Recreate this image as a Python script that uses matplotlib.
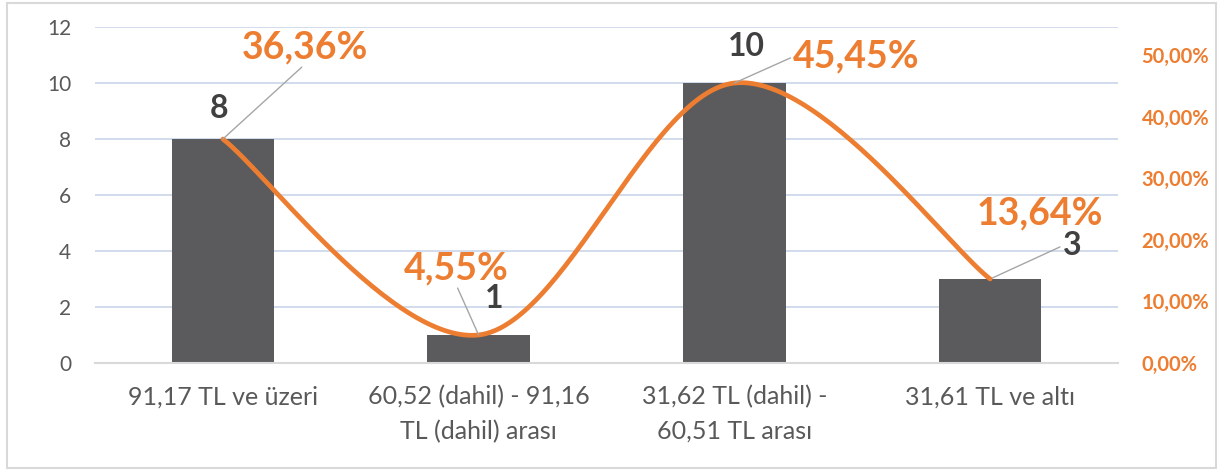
import numpy as np
import matplotlib
matplotlib.use("Agg")
import matplotlib.pyplot as plt
from matplotlib.patches import Rectangle
from matplotlib.ticker import FuncFormatter

# data
categories = ["91,17 TL ve üzeri", "60,52 (dahil) - 91,16\nTL (dahil) arası",
              "31,62 TL (dahil) -\n60,51 TL arası", "31,61 TL ve altı"]
counts = [8, 1, 10, 3]
shares = [0.3636, 0.0455, 0.4545, 0.1364]
share_labels = ["36,36%", "4,55%", "45,45%", "13,64%"]
left_ticks = [0, 2, 4, 6, 8, 10, 12]
right_ticks = [0.0, 0.1, 0.2, 0.3, 0.4, 0.5]

bar_color = "#5B5B5D"
orange = "#ED7D31"
text_gray = "#595959"
grid_color = "#C9D5EA"

plt.rcParams['font.family'] = ['Lato', 'DejaVu Sans']


def smooth(xs, ys, n=60):
    # excel-like smoothed line (catmull-rom as bezier segments)
    pts = np.column_stack([xs, ys]).astype(float)
    out = []
    for i in range(len(pts) - 1):
        p0 = pts[i - 1] if i > 0 else pts[i]
        p1 = pts[i]
        p2 = pts[i + 1]
        p3 = pts[i + 2] if i + 2 < len(pts) else pts[i + 1]
        b1 = p1 + (p2 - p0) / 6
        b2 = p2 - (p3 - p1) / 6
        t = np.linspace(0, 1, n)[:, None]
        seg = (1 - t) ** 3 * p1 + 3 * (1 - t) ** 2 * t * b1 + 3 * (1 - t) * t ** 2 * b2 + t ** 3 * p2
        out.append(seg if i == 0 else seg[1:])
    out = np.vstack(out)
    return out[:, 0], out[:, 1]


fig = plt.figure(figsize=(12.21, 4.71), dpi=100)
fig.patches.append(Rectangle((7 / 1221, 3 / 471), 1209 / 1221, 465 / 471, transform=fig.transFigure,
                             fill=False, edgecolor="#D9D9D9", linewidth=1.5))

ax = fig.add_axes([95 / 1221, 108 / 471, 1023 / 1221, 336 / 471])
x = np.arange(len(categories))
ax.bar(x, counts, width=0.4, color=bar_color, zorder=2)
ax.set_xlim(-0.5, len(categories) - 0.5)
ax.set_ylim(0, 12)
ax.set_yticks(left_ticks)
ax.yaxis.grid(True, color=grid_color, linewidth=1.2)
ax.set_axisbelow(True)
for s in ["top", "left", "right"]:
    ax.spines[s].set_visible(False)
ax.spines["bottom"].set_color("#D9D9D9")
ax.spines["bottom"].set_linewidth(1.5)
ax.set_xticks(x)
ax.set_xticklabels(categories, fontsize=18, color=text_gray, linespacing=1.6)
ax.tick_params(axis="x", length=0, pad=16)
ax.tick_params(axis="y", length=0, pad=17, labelsize=15, labelcolor=text_gray)

ax2 = ax.twinx()
ax2.set_ylim(0, 12 / sum(counts))
ax2.set_yticks(right_ticks)
ax2.yaxis.set_major_formatter(FuncFormatter(lambda v, p: ("%.2f%%" % (v * 100)).replace(".", ",")))
ax2.tick_params(axis="y", length=0, pad=17, labelsize=14.5, labelcolor=orange)
for lab in ax2.get_yticklabels():
    lab.set_fontweight("bold")
for s in ax2.spines.values():
    s.set_visible(False)

sx, sy = smooth(x, shares)
ax2.plot(sx, sy, color=orange, linewidth=3.4, solid_capstyle="round", zorder=3)

leader = dict(arrowstyle="-", color="#A6A6A6", lw=1, shrinkA=0, shrinkB=0)

# count labels (offsets in points from the bar tops)
count_offsets = [(-3, 22), (11, 26), (9, 26), (59, 24)]
for i, c in enumerate(counts):
    props = None
    if i == 3:
        props = dict(leader, relpos=(0, 0.5))
    ax.annotate(str(c), xy=(x[i], c), xytext=count_offsets[i], textcoords="offset points",
                ha="center", va="center", fontsize=23, fontweight="bold", color="#404040",
                arrowprops=props, zorder=5)

# percentage labels
share_offsets = [(59, 66), (-16, 48), (88, 19), (36, 47)]
share_rel = [(0.5, 0), (0.5, 0), (0, 0.5), None]
for i, s in enumerate(shares):
    props = None
    if share_rel[i] is not None:
        props = dict(leader, relpos=share_rel[i])
    ax2.annotate(share_labels[i], xy=(x[i], s), xytext=share_offsets[i], textcoords="offset points",
                 ha="center", va="center", fontsize=27, fontweight="bold", color=orange,
                 arrowprops=props, zorder=5)

plt.savefig("out.png", dpi=100)
